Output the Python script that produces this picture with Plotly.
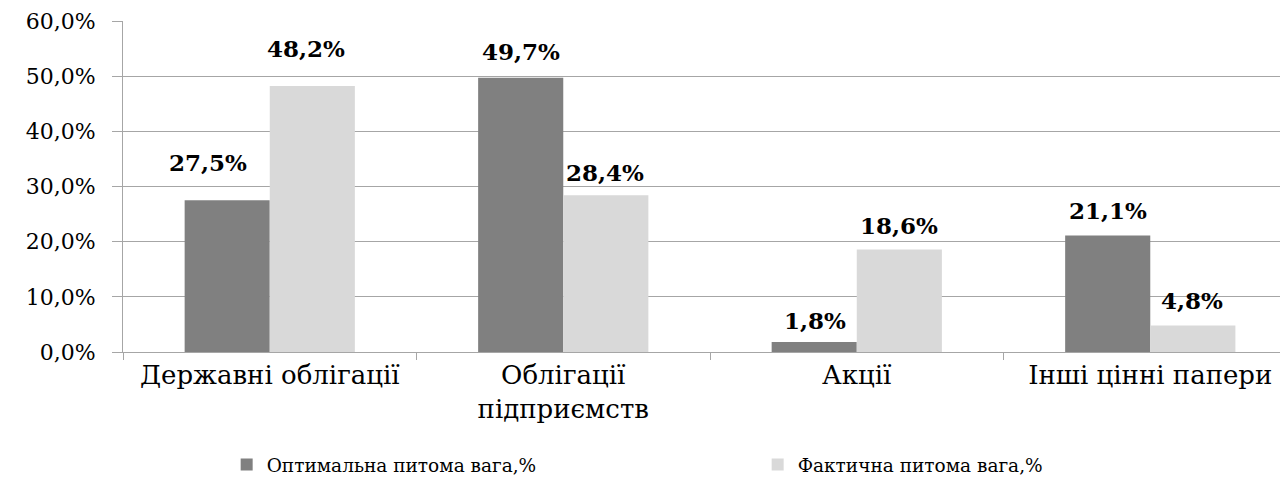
import plotly.graph_objects as go

categories = ["Державні облігації", "Облігації<br>підприємств", "Акції", "Інші цінні папери"]
series_names = ["Оптимальна питома вага,%", "Фактична питома вага,%"]
optimal = [27.5, 49.7, 1.8, 21.1]
actual = [48.2, 28.4, 18.6, 4.8]
y_ticks = [0, 10, 20, 30, 40, 50, 60]
y_tick_labels = ["0,0%", "10,0%", "20,0%", "30,0%", "40,0%", "50,0%", "60,0%"]

colors = ["#808080", "#d9d9d9"]
axis_grey = "#a6a6a6"
serif = "DejaVu Serif"

# label placement (px): lift above each bar top and sideways nudge
label_lift = [[38, 26, 22, 25], [38, 23, 24, 25]]
label_nudge = [[-20, 0, 0, 0], [-6, 0, 0, 0]]

fig = go.Figure()
for name, vals, col in zip(series_names, [optimal, actual], colors):
    fig.add_trace(go.Bar(x=categories, y=vals, name=name, marker=dict(color=col, line=dict(width=0))))

# empty helper trace so the tick-mark axis is drawn
fig.add_trace(go.Scatter(x=[], y=[], yaxis="y2", showlegend=False, hoverinfo="skip"))

for s, vals in enumerate([optimal, actual]):
    side = -1 if s == 0 else 1
    for i, v in enumerate(vals):
        fig.add_annotation(
            x=categories[i], y=v, xref="x", yref="y",
            text="<b>" + f"{v:.1f}%".replace(".", ",") + "</b>",
            showarrow=False, yanchor="middle",
            xshift=side * 42 + label_nudge[s][i], yshift=label_lift[s][i],
            font=dict(family=serif, size=23, color="#000000"),
        )

fig.update_layout(
    width=1288, height=478,
    margin=dict(l=123, r=8, t=21, b=126, autoexpand=False),
    paper_bgcolor="white", plot_bgcolor="white",
    barmode="group", bargap=0.42, bargroupgap=0,
    font=dict(family=serif, size=21, color="#000000"),
    showlegend=True,
    legend=dict(orientation="h", x=0.0896, xanchor="left", yref="container", y=0.027, yanchor="middle",
                font=dict(family=serif, size=18.5), itemwidth=30,
                entrywidth=486, entrywidthmode="pixels", traceorder="normal"),
    # main y axis: long white ticks push the labels away from the axis line
    yaxis=dict(range=[0, 60], tickvals=y_ticks, ticktext=y_tick_labels,
               showgrid=True, gridcolor=axis_grey, gridwidth=1,
               showline=True, linecolor=axis_grey, linewidth=1,
               ticks="outside", ticklen=22, tickcolor="white", zeroline=False,
               automargin=False, tickfont=dict(family=serif, size=22)),
    # second y axis only carries the short grey tick marks
    yaxis2=dict(overlaying="y", side="left", range=[0, 60], tickvals=y_ticks,
                showticklabels=False, showgrid=False, zeroline=False, showline=False,
                ticks="outside", ticklen=10, tickcolor=axis_grey, automargin=False),
    xaxis=dict(range=[-0.5, 3.442], showline=True, linecolor=axis_grey, linewidth=1,
               ticks="outside", ticklen=7, tickcolor=axis_grey, tickson="boundaries",
               automargin=False, tickfont=dict(family=serif, size=26)),
)

fig.write_html("out.html")
